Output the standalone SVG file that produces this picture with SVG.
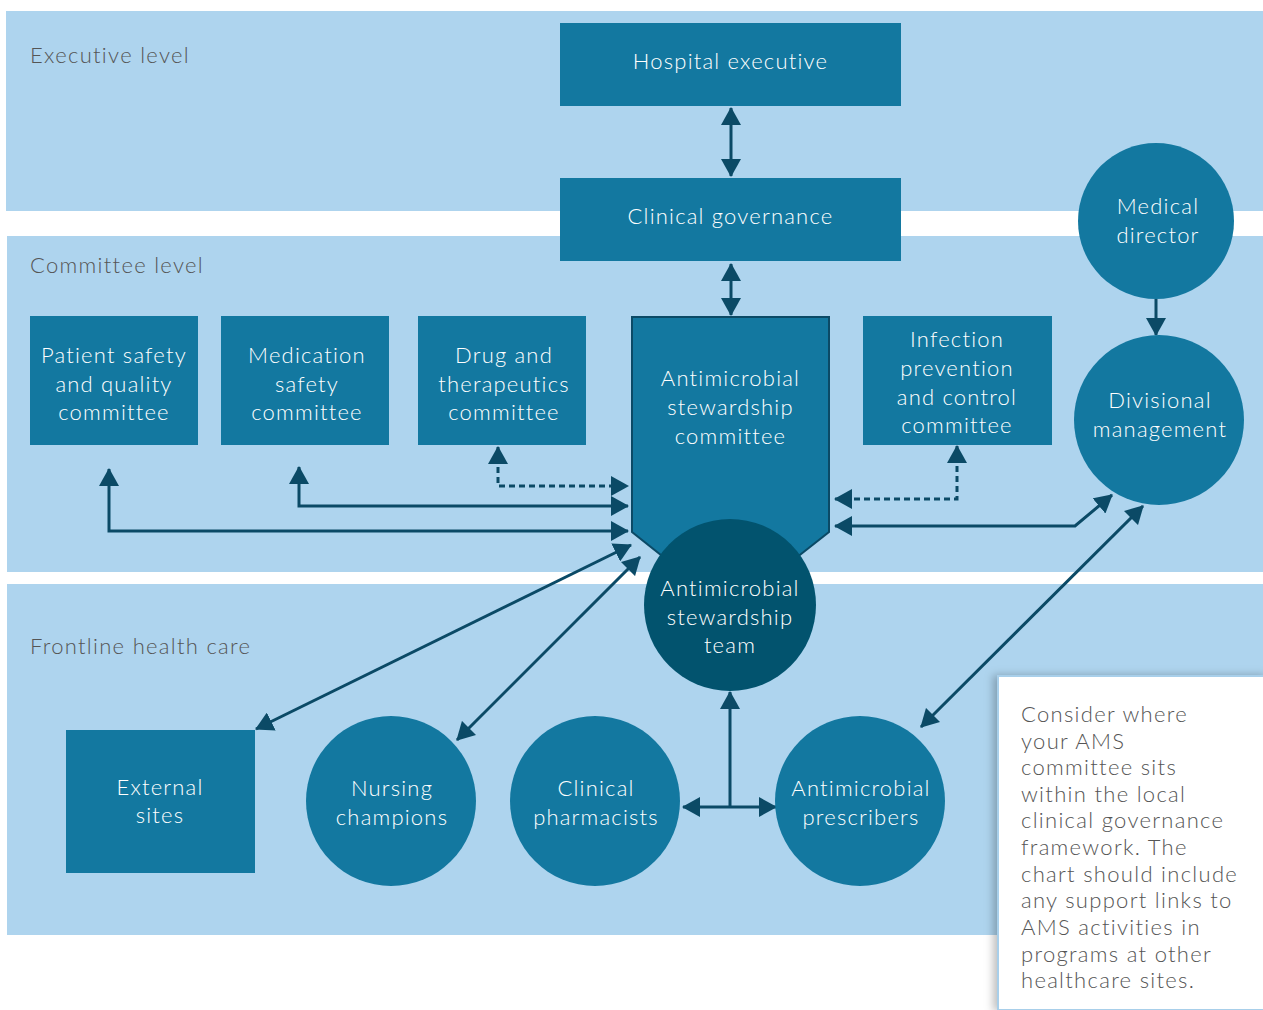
<svg xmlns="http://www.w3.org/2000/svg" width="1263" height="1010" viewBox="0 0 1263 1010">
<style>
.band{fill:#aed4ee}
.lbl{font-family:Lato,"Liberation Sans",sans-serif;font-size:22px;fill:#555;letter-spacing:1.3px;font-weight:300}
.node{fill:#1378a0}
.dark{fill:#02536e}
.nt{font-family:Lato,"Liberation Sans",sans-serif;font-size:22px;fill:#fff;text-anchor:middle;letter-spacing:1.2px;font-weight:300}
.ln{fill:none;stroke:#0b4a66;stroke-width:3}
.dot{stroke-dasharray:6 4}
.note{font-family:Lato,"Liberation Sans",sans-serif;font-size:22px;fill:#555;letter-spacing:1.3px;font-weight:300}
</style>
<defs>
<marker id="ah" markerUnits="userSpaceOnUse" markerWidth="18" markerHeight="20" refX="17" refY="10" orient="auto-start-reverse" viewBox="0 0 18 20">
<path d="M0,0 L18,10 L0,20 z" fill="#0b4a66"/>
</marker>
<filter id="sh" x="-20%" y="-20%" width="140%" height="140%">
<feDropShadow dx="-4" dy="0" stdDeviation="4" flood-color="#000" flood-opacity="0.25"/>
</filter>
</defs>
<rect width="1263" height="1010" fill="#fff"/>
<g id="bands">
<rect class="band" x="6" y="11" width="1257" height="200"/>
<rect class="band" x="7" y="236" width="1256" height="336"/>
<rect class="band" x="7" y="584" width="1256" height="351"/>
<text class="lbl" x="30" y="63">Executive level</text>
<text class="lbl" x="30" y="273">Committee level</text>
<text class="lbl" x="30" y="654">Frontline health care</text>
</g>
<g id="connectors">
<line class="ln" x1="731" y1="108" x2="731" y2="176" marker-start="url(#ah)" marker-end="url(#ah)"/>
<line class="ln" x1="731" y1="264" x2="731" y2="315" marker-start="url(#ah)" marker-end="url(#ah)"/>
<line class="ln" x1="1156" y1="299" x2="1156" y2="335" marker-end="url(#ah)"/>
<polyline class="ln dot" points="498,447 498,486 628,486" marker-start="url(#ah)" marker-end="url(#ah)"/>
<polyline class="ln" points="299,467 299,506 628,506" marker-start="url(#ah)" marker-end="url(#ah)"/>
<polyline class="ln" points="109,469 109,531 628,531" marker-start="url(#ah)" marker-end="url(#ah)"/>
<polyline class="ln dot" points="957,446 957,499 835,499" marker-start="url(#ah)" marker-end="url(#ah)"/>
<polyline class="ln" points="835,526 1075,526 1112,495" marker-start="url(#ah)" marker-end="url(#ah)"/>
<line class="ln" x1="1143" y1="506" x2="921" y2="727" marker-start="url(#ah)" marker-end="url(#ah)"/>
<line class="ln" x1="631" y1="545" x2="256" y2="729" marker-start="url(#ah)" marker-end="url(#ah)"/>
<line class="ln" x1="640" y1="557" x2="457" y2="740" marker-start="url(#ah)" marker-end="url(#ah)"/>
<line class="ln" x1="730" y1="692" x2="730" y2="807" marker-start="url(#ah)"/>
<line class="ln" x1="683" y1="807" x2="776" y2="807" marker-start="url(#ah)" marker-end="url(#ah)"/>
</g>
<g id="hospital-executive">
<rect class="node" x="560" y="23" width="341" height="83"/>
<text class="nt" x="730.5" y="69">Hospital executive</text>
</g>
<g id="clinical-governance">
<rect class="node" x="560" y="178" width="341" height="83"/>
<text class="nt" x="730.5" y="224">Clinical governance</text>
</g>
<g id="medical-director">
<circle class="node" cx="1156" cy="221" r="78"/>
<text class="nt" x="1158" y="214">Medical</text>
<text class="nt" x="1158" y="243">director</text>
</g>
<g id="divisional-management">
<circle class="node" cx="1159" cy="420" r="85"/>
<text class="nt" x="1160" y="408">Divisional</text>
<text class="nt" x="1160" y="437">management</text>
</g>
<g id="patient-safety">
<rect class="node" x="30" y="316" width="168" height="129"/>
<text class="nt" x="114" y="363">Patient safety</text>
<text class="nt" x="114" y="392">and quality</text>
<text class="nt" x="114" y="420">committee</text>
</g>
<g id="medication-safety">
<rect class="node" x="221" y="316" width="168" height="129"/>
<text class="nt" x="307" y="363">Medication</text>
<text class="nt" x="307" y="392">safety</text>
<text class="nt" x="307" y="420">committee</text>
</g>
<g id="drug-therapeutics">
<rect class="node" x="418" y="316" width="168" height="129"/>
<text class="nt" x="504" y="363">Drug and</text>
<text class="nt" x="504" y="392">therapeutics</text>
<text class="nt" x="504" y="420">committee</text>
</g>
<g id="infection-prevention">
<rect class="node" x="863" y="316" width="189" height="129"/>
<text class="nt" x="957" y="347">Infection</text>
<text class="nt" x="957" y="376">prevention</text>
<text class="nt" x="957" y="405">and control</text>
<text class="nt" x="957" y="433">committee</text>
</g>
<g id="ams-committee">
<path d="M632,317 L829,317 L829,532 L730,610 L632,532 Z" fill="#1378a0" stroke="#0b4a66" stroke-width="2"/>
<text class="nt" x="730.5" y="386">Antimicrobial</text>
<text class="nt" x="730.5" y="415">stewardship</text>
<text class="nt" x="730.5" y="444">committee</text>
</g>
<g id="ams-team">
<circle class="dark" cx="730" cy="605" r="86"/>
<text class="nt" x="730" y="596">Antimicrobial</text>
<text class="nt" x="730" y="625">stewardship</text>
<text class="nt" x="730" y="653">team</text>
</g>
<g id="external-sites">
<rect class="node" x="66" y="730" width="189" height="143"/>
<text class="nt" x="160" y="795">External</text>
<text class="nt" x="160" y="823">sites</text>
</g>
<g id="nursing-champions">
<circle class="node" cx="391" cy="801" r="85"/>
<text class="nt" x="392" y="796">Nursing</text>
<text class="nt" x="392" y="825">champions</text>
</g>
<g id="clinical-pharmacists">
<circle class="node" cx="595" cy="801" r="85"/>
<text class="nt" x="596" y="796">Clinical</text>
<text class="nt" x="596" y="825">pharmacists</text>
</g>
<g id="antimicrobial-prescribers">
<circle class="node" cx="860" cy="801" r="85"/>
<text class="nt" x="861" y="796">Antimicrobial</text>
<text class="nt" x="861" y="825">prescribers</text>
</g>
<g id="note">
<rect x="998" y="676" width="270" height="334" fill="#fff" stroke="#a8cfea" stroke-width="2" filter="url(#sh)"/>
<text class="note" x="1021" y="722">Consider where</text>
<text class="note" x="1021" y="749">your AMS</text>
<text class="note" x="1021" y="775">committee sits</text>
<text class="note" x="1021" y="802">within the local</text>
<text class="note" x="1021" y="828">clinical governance</text>
<text class="note" x="1021" y="855">framework. The</text>
<text class="note" x="1021" y="882">chart should include</text>
<text class="note" x="1021" y="908">any support links to</text>
<text class="note" x="1021" y="935">AMS activities in</text>
<text class="note" x="1021" y="962">programs at other</text>
<text class="note" x="1021" y="988">healthcare sites.</text>
</g>
</svg>
